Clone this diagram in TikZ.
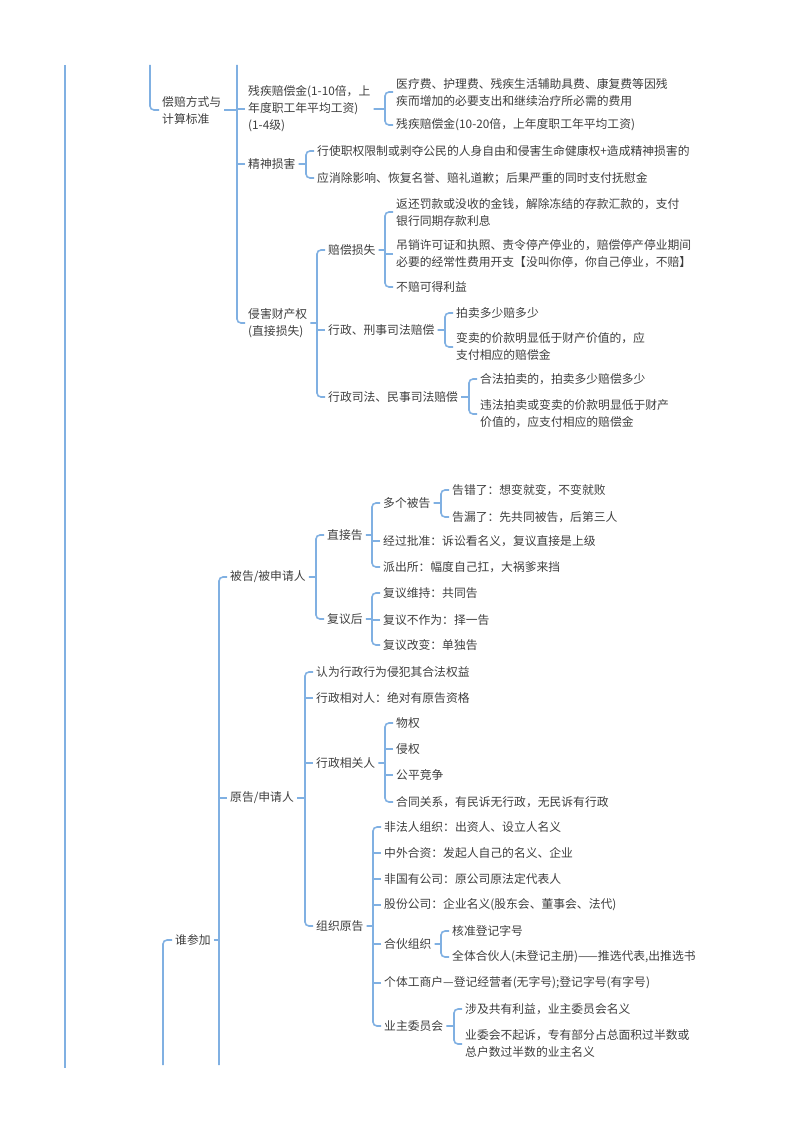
\documentclass[tikz,border=0pt]{standalone}
\usepackage{fontspec}
\newfontfamily\cjk{Noto Sans CJK SC}
\usetikzlibrary{calc}
\definecolor{linkblue}{RGB}{128,176,226}
\definecolor{txtgray}{RGB}{62,62,62}

\begin{document}
\begin{tikzpicture}[
  x=1pt, y=-1pt,
  every node/.style={anchor=west, align=left, inner xsep=3pt, inner ysep=1pt,
    text=txtgray, font=\cjk\fontsize{11.8}{17}\selectfont},
  link/.style={draw=linkblue, line width=1.6pt, rounded corners=4pt}
]
  \useasboundingbox (0,0) rectangle (800,1132);

  % Upper block: compensation
  \node (pf) at (159,110) {偿赔方式与\\计算标准};
  \node (dc) at (245,109) {残疾赔偿金(1-10倍，上\\年度职工年平均工资)\\(1-4级)};
  \node (mc1) at (393,92) {医疗费、护理费、残疾生活辅助具费、康复费等因残\\疾而增加的必要支出和继续治疗所必需的费用};
  \node (mc2) at (393,125) {残疾赔偿金(10-20倍，上年度职工年平均工资)};
  \node (ms) at (245,164) {精神损害};
  \node (mm1) at (314,151) {行使职权限制或剥夺公民的人身自由和侵害生命健康权+造成精神损害的};
  \node (mm2) at (314,178) {应消除影响、恢复名誉、赔礼道歉；后果严重的同时支付抚慰金};
  \node (pr) at (245,323) {侵害财产权\\(直接损失)};
  \node (pl) at (325,250) {赔偿损失};
  \node (l1) at (393,212) {返还罚款或没收的金钱，解除冻结的存款汇款的，支付\\银行同期存款利息};
  \node (l2) at (393,254) {吊销许可证和执照、责令停产停业的，赔偿停产停业期间\\必要的经常性费用开支【没叫你停，你自己停业，不赔】};
  \node (l3) at (393,287) {不赔可得利益};
  \node (pc) at (325,330) {行政、刑事司法赔偿};
  \node (c1) at (453,313) {拍卖多少赔多少};
  \node (c2) at (453,347) {变卖的价款明显低于财产价值的，应\\支付相应的赔偿金};
  \node (pv) at (325,397) {行政司法、民事司法赔偿};
  \node (v1) at (477,379) {合法拍卖的，拍卖多少赔偿多少};
  \node (v2) at (477,414) {违法拍卖或变卖的价款明显低于财产\\价值的，应支付相应的赔偿金};

  % Lower block: who takes part
  \node (who) at (172,940) {谁参加};
  \node (df) at (227,577) {被告/被申请人};
  \node (dd) at (324,535) {直接告};
  \node (dm) at (380,503) {多个被告};
  \node (dm1) at (449,490) {告错了：想变就变，不变就败};
  \node (dm2) at (449,517) {告漏了：先共同被告，后第三人};
  \node (dd2) at (380,541) {经过批准：诉讼看名义，复议直接是上级};
  \node (dd3) at (380,567) {派出所：幅度自己扛，大祸爹来挡};
  \node (da) at (324,619) {复议后};
  \node (da1) at (380,593) {复议维持：共同告};
  \node (da2) at (380,620) {复议不作为：择一告};
  \node (da3) at (380,645) {复议改变：单独告};
  \node (pt) at (227,798) {原告/申请人};
  \node (p1) at (313,672) {认为行政行为侵犯其合法权益};
  \node (p2) at (313,698) {行政相对人：绝对有原告资格};
  \node (p3) at (313,763) {行政相关人};
  \node (r1) at (393,723) {物权};
  \node (r2) at (393,749) {侵权};
  \node (r3) at (393,775) {公平竞争};
  \node (r4) at (393,802) {合同关系，有民诉无行政，无民诉有行政};
  \node (p4) at (313,926) {组织原告};
  \node (o1) at (381,827) {非法人组织：出资人、设立人名义};
  \node (o2) at (381,853) {中外合资：发起人自己的名义、企业};
  \node (o3) at (381,879) {非国有公司：原公司原法定代表人};
  \node (o4) at (381,905) {股份公司：企业名义(股东会、董事会、法代)};
  \node (o5) at (381,944) {合伙组织};
  \node (h1) at (449,931) {核准登记字号};
  \node (h2) at (449,957) {全体合伙人(未登记主册)——推选代表,出推选书};
  \node (o6) at (381,983) {个体工商户—登记经营者(无字号);登记字号(有字号)};
  \node (o7) at (381,1026) {业主委员会};
  \node (y1) at (462,1009) {涉及共有利益，业主委员会名义};
  \node (y2) at (462,1044) {业委会不起诉，专有部分占总面积过半数或\\总户数过半数的业主名义};

  % Lines running off the page
  \coordinate (rootT) at (65,65);
  \coordinate (rootB) at (65,1068);
  \coordinate (pfT) at (150,65);
  \coordinate (cbT) at (237,65);
  \coordinate (whoB) at (163,1065);
  \coordinate (ptB) at (219,1065);
  \draw[link] (rootT) -- (rootB);
  \draw[link] (pfT) |- (pf.west);
  \draw[link] (cbT) |- (pr.west);
  \draw[link] (pf.east) -- (pf.east -| cbT);
  \draw[link] (whoB) |- (who.west);
  \draw[link] (ptB) |- (df.west);
  \draw[link] (who.east) -- (who.east -| ptB);

  % Brackets: parent / first child / last child
  \foreach \p/\a/\b in {dc/mc1/mc2, ms/mm1/mm2, pr/pl/pv, pl/l1/l3, pc/c1/c2,
      pv/v1/v2, df/dd/da, dd/dm/dd3, dm/dm1/dm2, da/da1/da3, pt/p1/p4,
      p3/r1/r4, p4/o1/o7, o5/h1/h2, o7/y1/y2}
    \draw[link] (\a.west) -- ++(-8,0) coordinate (fork) |- (\b.west)
                (\p.east) -- (\p.east -| fork);

  % Middle children
  \foreach \n in {dc, ms, pc, l2, dd2, da2, pt, p2, p3, r2, r3, o2, o3, o4, o5, o6}
    \draw[link] (\n.west) -- ++(-8,0);
\end{tikzpicture}
\end{document}
